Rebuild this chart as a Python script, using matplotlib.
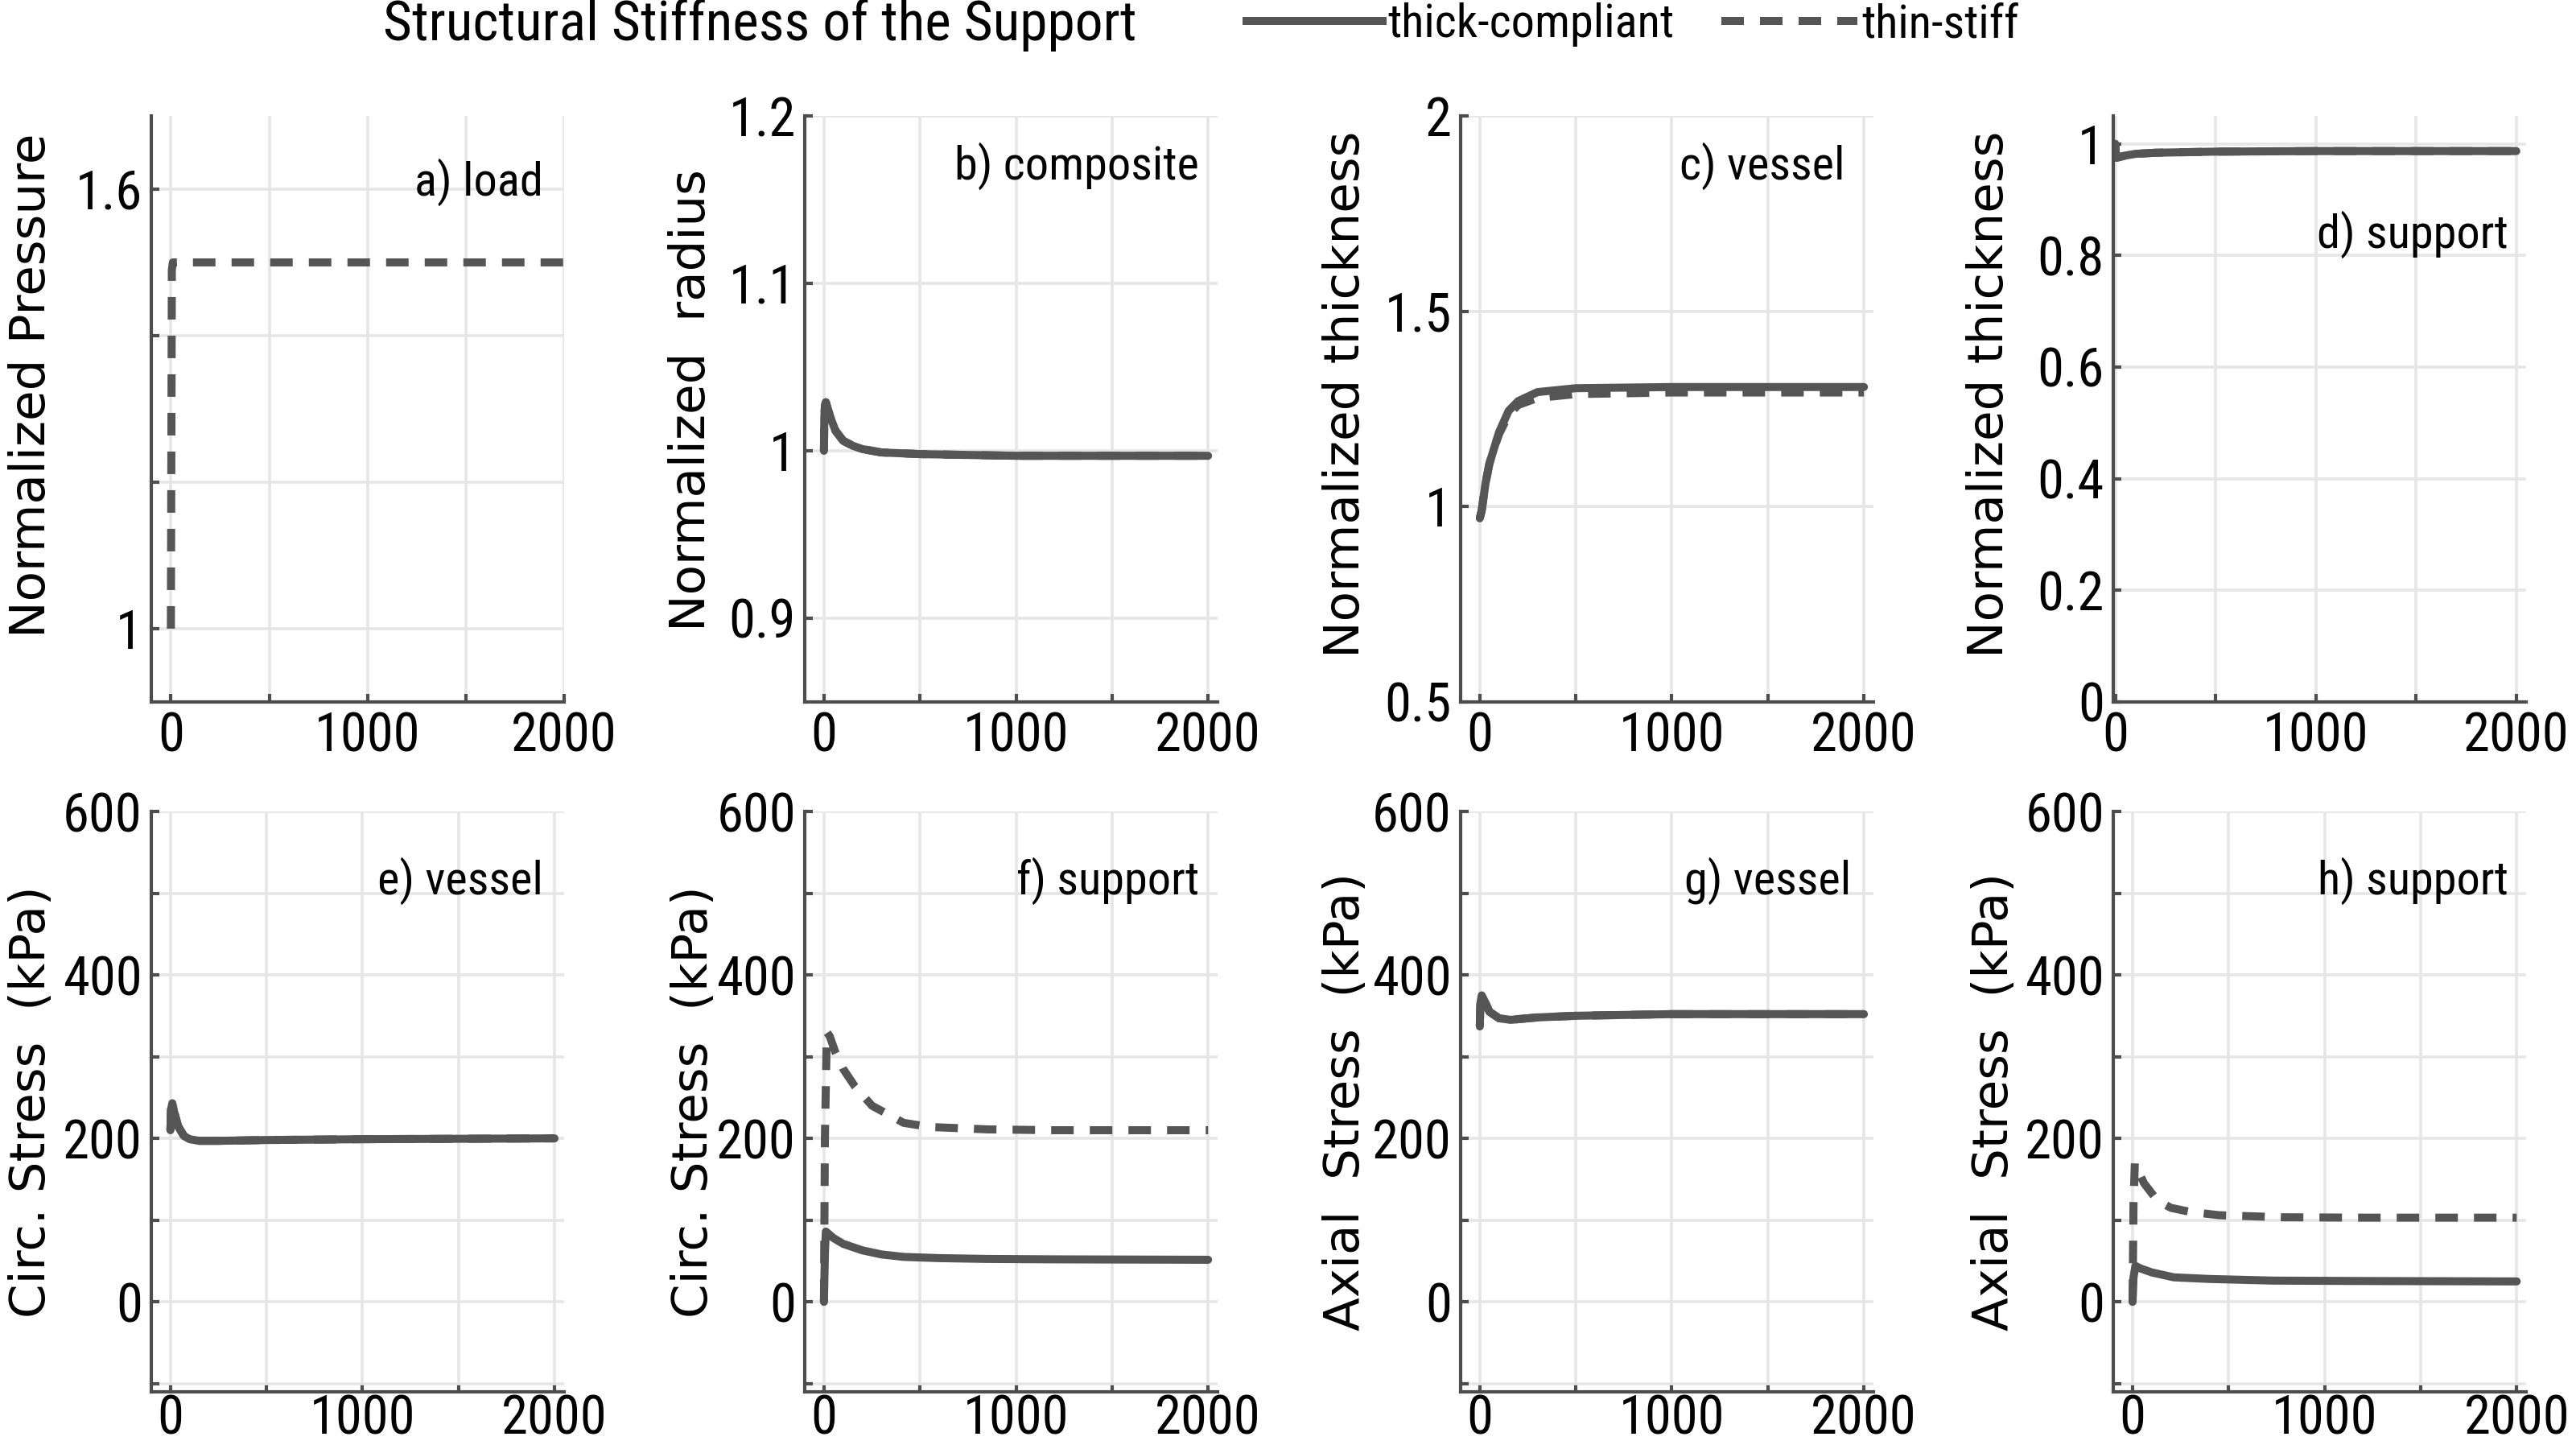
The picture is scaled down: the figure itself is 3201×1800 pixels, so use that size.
import matplotlib
matplotlib.use('Agg')
import matplotlib.pyplot as plt
from matplotlib.lines import Line2D

# ---- data ----
# a) load
t_load = [0, 5, 10, 20, 2000]
load_thin = [1.0, 1.49, 1.5, 1.5, 1.5]

# b) composite radius
t_rad = [0, 2, 5, 10, 20, 40, 60, 100, 150, 200, 300, 500, 1000, 2000]
rad_thick = [1.0, 1.02, 1.027, 1.029, 1.025, 1.018, 1.012, 1.006, 1.003, 1.001, 0.999, 0.998, 0.997, 0.997]
rad_thin = [1.0, 1.02, 1.027, 1.029, 1.025, 1.018, 1.012, 1.006, 1.003, 1.001, 0.999, 0.998, 0.997, 0.997]

# c) vessel thickness
t_vth = [0, 10, 30, 50, 75, 100, 150, 200, 300, 500, 1000, 2000]
vth_thick = [0.97, 0.99, 1.06, 1.11, 1.15, 1.19, 1.245, 1.27, 1.293, 1.303, 1.306, 1.306]
vth_thin = [0.97, 0.99, 1.06, 1.11, 1.15, 1.185, 1.235, 1.26, 1.278, 1.288, 1.292, 1.292]

# d) support thickness
t_sth = [0, 2, 6, 50, 100, 200, 500, 1000, 2000]
sth_thick = [1.0, 0.985, 0.975, 0.979, 0.982, 0.984, 0.986, 0.987, 0.987]
sth_thin = [1.0, 0.985, 0.975, 0.979, 0.982, 0.984, 0.986, 0.987, 0.987]

# e) circ. stress vessel
t_cv = [0, 3, 10, 20, 40, 70, 100, 150, 250, 500, 1000, 2000]
cv_thick = [210, 235, 243, 232, 215, 203, 199, 197, 197, 198, 199, 200]
cv_thin = [210, 235, 243, 232, 215, 203, 199, 197, 197, 198, 199, 200]

# f) circ. stress support
t_cs_thin = [0, 5, 15, 30, 60, 100, 160, 250, 415, 550, 850, 1200, 2000]
cs_thin = [0, 200, 330, 325, 305, 285, 264, 240, 219, 214, 211, 210, 210]
t_cs_thick = [0, 5, 10, 20, 50, 100, 200, 300, 415, 600, 850, 1200, 2000]
cs_thick = [0, 60, 86, 84, 78, 71, 63, 58, 55, 53.5, 52.5, 52, 51.5]

# g) axial stress vessel
t_av = [0, 3, 10, 25, 50, 100, 160, 300, 500, 1000, 2000]
av_thick = [337, 365, 375, 368, 355, 347, 345, 348, 350, 352, 352]
av_thin = [337, 365, 375, 368, 355, 347, 345, 348, 350, 352, 352]

# h) axial stress support
t_as_thin = [0, 5, 12, 30, 60, 129, 200, 301, 451, 774, 1200, 2000]
as_thin = [0, 120, 170, 160, 145, 124, 115, 110, 106, 103.5, 103, 103]
t_as_thick = [0, 5, 15, 40, 100, 215, 400, 730, 1200, 2000]
as_thick = [0, 30, 44, 41, 36, 30, 28, 26, 25.5, 25]

panel_titles = ['a) load', 'b) composite', 'c) vessel', 'd) support',
                'e) vessel', 'f) support', 'g) vessel', 'h) support']
ylabels = ['Normalized Pressure', 'Normalized  radius', 'Normalized thickness', 'Normalized thickness',
           'Circ. Stress  (kPa)', 'Circ. Stress  (kPa)', 'Axial  Stress  (kPa)', 'Axial  Stress  (kPa)']

xticks = [0, 500, 1000, 1500, 2000]
xticklabels = ['0', '', '1000', '', '2000']
stress_ticks = [-100, 0, 100, 200, 300, 400, 500, 600]
stress_labels = ['', '0', '', '200', '', '400', '', '600']

# ---- style ----
narrow = ['Liberation Sans Narrow', 'Roboto Condensed', 'DejaVu Sans']
wide = ['DejaVu Sans']
col = '#555555'
axcol = '#4d4d4d'
lw = 3.6
dash = (0, (2.8, 2.0))
nfont = dict(family=narrow, stretch='condensed')

fig = plt.figure(figsize=(3201 / 200, 1800 / 200), dpi=200)

lefts = [0.0587, 0.3124, 0.567, 0.8204]
w = 0.1603
top_row = (0.5156, 0.4044)
bot_row = (0.0395, 0.4005)

axes = []
for r, (b, h) in enumerate([top_row, bot_row]):
    for c in range(4):
        axes.append(fig.add_axes([lefts[c], b, w, h]))

series = [
    [(t_load, load_thin, 'thin')],
    [(t_rad, rad_thin, 'thin'), (t_rad, rad_thick, 'thick')],
    [(t_vth, vth_thin, 'thin'), (t_vth, vth_thick, 'thick')],
    [(t_sth, sth_thin, 'thin'), (t_sth, sth_thick, 'thick')],
    [(t_cv, cv_thin, 'thin'), (t_cv, cv_thick, 'thick')],
    [(t_cs_thin, cs_thin, 'thin'), (t_cs_thick, cs_thick, 'thick')],
    [(t_av, av_thin, 'thin'), (t_av, av_thick, 'thick')],
    [(t_as_thin, as_thin, 'thin'), (t_as_thick, as_thick, 'thick')],
]

ylims = [(0.9, 1.7), (0.85, 1.2), (0.5, 2.0), (0, 1.05),
         (-110, 600), (-110, 600), (-110, 600), (-110, 600)]
xlims = [(-100, 2000), (-100, 2050), (-100, 2050), (-10, 2050),
         (-100, 2050), (-100, 2050), (-100, 2050), (-100, 2050)]
yticks = [([1.0, 1.2, 1.4, 1.6], ['1', '', '', '1.6']),
          ([0.9, 1.0, 1.1, 1.2], ['0.9', '1', '1.1', '1.2']),
          ([0.5, 1.0, 1.5, 2.0], ['0.5', '1', '1.5', '2']),
          ([0, 0.2, 0.4, 0.6, 0.8, 1.0], ['0', '0.2', '0.4', '0.6', '0.8', '1']),
          (stress_ticks, stress_labels), (stress_ticks, stress_labels),
          (stress_ticks, stress_labels), (stress_ticks, stress_labels)]
title_pos = [(0.95, 0.887), (0.955, 0.915), (0.93, 0.915), (0.957, 0.797),
             (0.95, 0.88), (0.955, 0.88), (0.945, 0.88), (0.957, 0.88)]
label_xy = [(-0.232, 0.54), (-0.216, 0.515), (-0.22, 0.525), (-0.242, 0.525),
            (-0.232, 0.5), (-0.21, 0.5), (-0.22, 0.5), (-0.23, 0.5)]

for i, ax in enumerate(axes):
    for t, v, kind in series[i]:
        if kind == 'thin':
            ax.plot(t, v, color=col, lw=lw, linestyle=dash, solid_capstyle='butt')
        else:
            ax.plot(t, v, color=col, lw=lw, solid_capstyle='round')
    ax.set_xlim(*xlims[i])
    ax.set_ylim(*ylims[i])
    ax.set_xticks(xticks)
    ax.set_xticklabels(xticklabels, fontsize=24, **nfont)
    ax.set_yticks(yticks[i][0])
    ax.set_yticklabels(yticks[i][1], fontsize=24, **nfont)
    for s in ['top', 'right']:
        ax.spines[s].set_visible(False)
    for s in ['left', 'bottom']:
        ax.spines[s].set_color(axcol)
        ax.spines[s].set_linewidth(1.5)
    ax.tick_params(direction='in', length=3.5, width=1.5, color=axcol, pad=4)
    if i >= 4:
        ax.tick_params(axis='x', pad=1)
    ax.grid(True, color='#e6e6e6', lw=1.3)
    ax.set_axisbelow(True)
    ax.set_ylabel(ylabels[i], family=wide, fontsize=22)
    ax.yaxis.set_label_coords(*label_xy[i])
    ax.text(title_pos[i][0], title_pos[i][1], panel_titles[i], transform=ax.transAxes,
            ha='right', va='center', fontsize=21, **nfont)

fig.text(0.295, 0.983, 'Structural Stiffness of the Support', ha='center', va='center',
         fontsize=25, **nfont)
handles = [Line2D([], [], color=col, lw=lw),
           Line2D([], [], color=col, lw=lw, linestyle=dash)]
fig.legend(handles, ['thick-compliant', 'thin-stiff'], loc='center left',
           bbox_to_anchor=(0.484, 0.983), ncol=2, frameon=False,
           prop={'family': narrow, 'stretch': 'condensed', 'size': 21},
           handlelength=2.9, handletextpad=0.1,
           columnspacing=1.0, borderpad=0, borderaxespad=0)

fig.savefig('out.png', dpi=200)
